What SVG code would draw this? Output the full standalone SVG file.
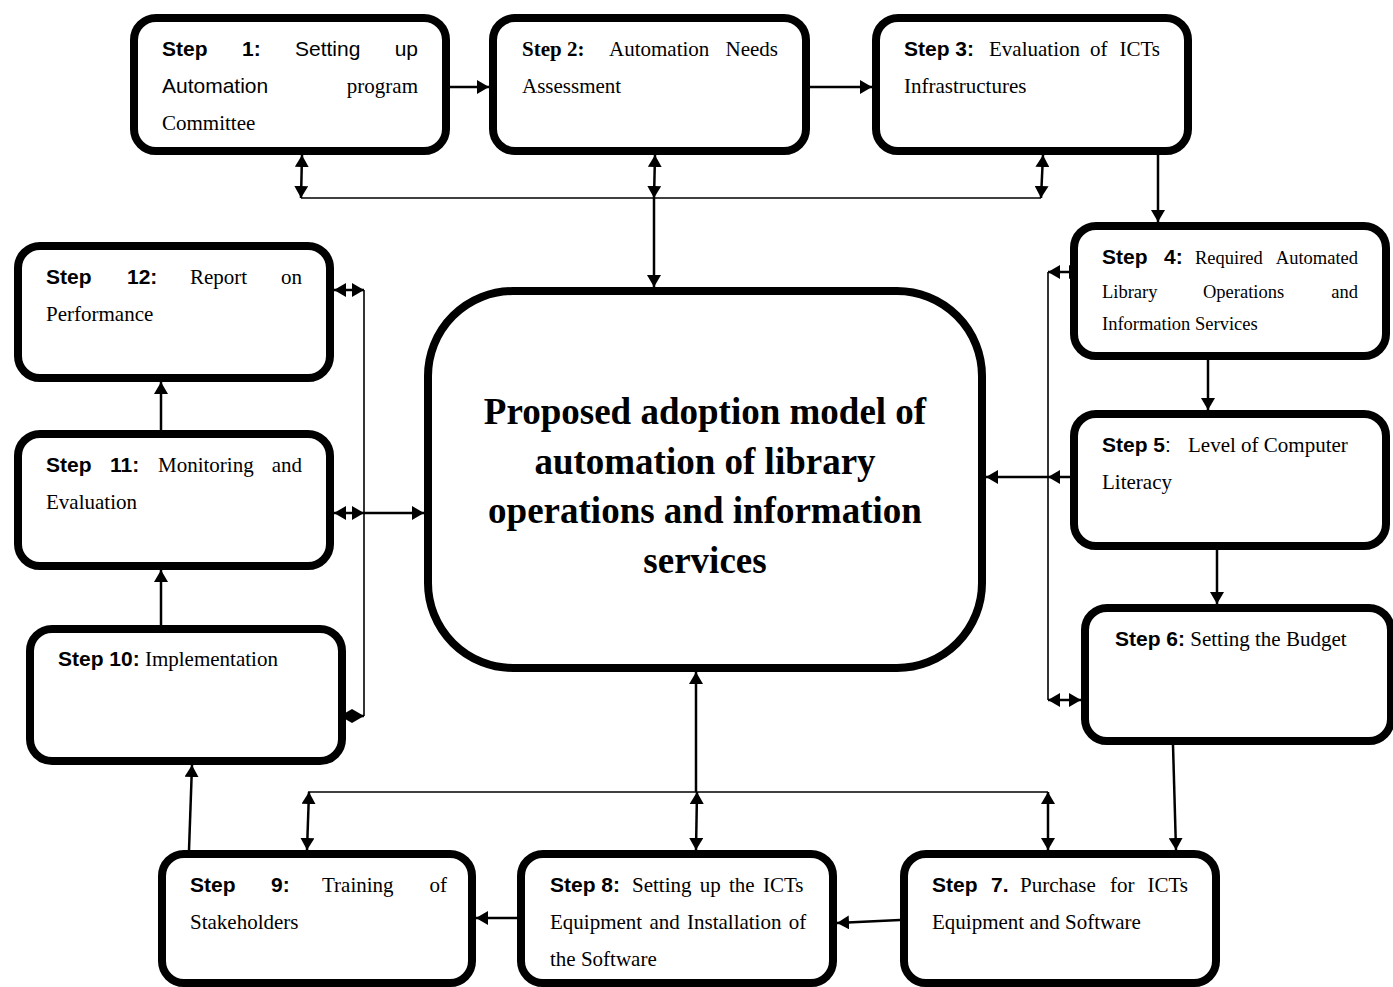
<svg xmlns="http://www.w3.org/2000/svg" width="1393" height="987" viewBox="0 0 1393 987">
<style>
.box{fill:#fff;stroke:#000;stroke-width:8}
.c{fill:none;stroke:#000;stroke-width:2.5}
.b{fill:none;stroke:#000;stroke-width:1.6}
.a{marker-end:url(#ah)}
.d{marker-start:url(#ah);marker-end:url(#ah)}
text{font-size:21px;fill:#000}
.s{font-family:"Liberation Sans",Arial,sans-serif;font-weight:bold}
.sr{font-family:"Liberation Sans",Arial,sans-serif}
.t{font-family:"Liberation Serif","Times New Roman",serif}
.tb{font-family:"Liberation Serif","Times New Roman",serif;font-weight:bold}
.m{font-size:18.5px}
.center{font-family:"Liberation Serif","Times New Roman",serif;font-weight:bold;font-size:37px;text-anchor:middle}
</style>
<defs>
<marker id="ah" markerUnits="userSpaceOnUse" markerWidth="14" markerHeight="14" refX="12" refY="7" orient="auto-start-reverse">
<path d="M0,0 L12,7 L0,14 z" fill="#000"/>
</marker>
</defs>

<g id="connectors">
<line class="c a" x1="450" y1="87" x2="489" y2="87"/>
<line class="c a" x1="810" y1="87" x2="872" y2="87"/>
<line class="b" x1="301" y1="198" x2="1041" y2="198"/>
<line class="c d" x1="302" y1="155" x2="301" y2="198"/>
<line class="c d" x1="655" y1="155" x2="654" y2="198"/>
<line class="c d" x1="1043" y1="155" x2="1041" y2="198"/>
<line class="c a" x1="654" y1="198" x2="654" y2="287"/>
<line class="c a" x1="1158" y1="155" x2="1158" y2="222"/>
<line class="c a" x1="1208" y1="360" x2="1208" y2="410"/>
<line class="c a" x1="1217" y1="550" x2="1217" y2="604"/>
<line class="c a" x1="1173" y1="745" x2="1176" y2="850"/>
<line class="c a" x1="900" y1="920" x2="837" y2="923"/>
<line class="c a" x1="517" y1="918" x2="476" y2="918"/>
<line class="c a" x1="189" y1="850" x2="192" y2="765"/>
<line class="c a" x1="161" y1="625" x2="161" y2="570"/>
<line class="c a" x1="161" y1="430" x2="161" y2="382"/>
<line class="b" x1="1048" y1="272" x2="1048" y2="700"/>
<line class="c d" x1="1048" y1="272" x2="1081" y2="272"/>
<line class="c d" x1="1048" y1="477" x2="1082" y2="477"/>
<line class="c d" x1="1048" y1="700" x2="1081" y2="700"/>
<line class="c a" x1="1048" y1="477" x2="986" y2="477"/>
<line class="b" x1="364" y1="290" x2="364" y2="716"/>
<line class="c d" x1="334" y1="290" x2="364" y2="290"/>
<line class="c d" x1="334" y1="513" x2="364" y2="513"/>
<line class="c d" x1="340" y1="716" x2="364" y2="716"/>
<line class="c a" x1="364" y1="513" x2="424" y2="513"/>
<line class="b" x1="308" y1="792" x2="1048" y2="792"/>
<line class="c a" x1="696" y1="792" x2="696" y2="672"/>
<line class="c d" x1="309" y1="792" x2="307" y2="850"/>
<line class="c d" x1="697" y1="792" x2="696" y2="850"/>
<line class="c d" x1="1048" y1="792" x2="1048" y2="850"/>
</g>

<g id="center">
<rect class="box" x="428" y="291" width="554" height="377" rx="85"/>
<text class="center" x="705" y="424">Proposed adoption model of</text>
<text class="center" x="705" y="474">automation of library</text>
<text class="center" x="705" y="523">operations and information</text>
<text class="center" x="705" y="573">services</text>
</g>

<g id="step1">
<rect class="box" x="134" y="18" width="312" height="133" rx="22"/>
<text class="s" x="162" y="56">Step</text>
<text class="s" x="242" y="56">1:</text>
<text class="sr" x="295" y="56">Setting</text>
<text class="sr" x="418" y="56" text-anchor="end">up</text>
<text class="sr" x="162" y="93">Automation</text>
<text class="t" x="418" y="93" text-anchor="end">program</text>
<text class="t" x="162" y="130">Committee</text>
</g>

<g id="step2">
<rect class="box" x="493" y="18" width="313" height="133" rx="22"/>
<text class="tb" x="522" y="56">Step 2:</text>
<text class="t" x="609" y="56">Automation</text>
<text class="t" x="778" y="56" text-anchor="end">Needs</text>
<text class="t" x="522" y="93">Assessment</text>
</g>

<g id="step3">
<rect class="box" x="876" y="18" width="312" height="133" rx="22"/>
<text class="s" x="904" y="56">Step 3:</text>
<text class="t" x="989" y="56">Evaluation</text>
<text class="t" x="1090" y="56">of</text>
<text class="t" x="1160" y="56" text-anchor="end">ICTs</text>
<text class="t" x="904" y="93">Infrastructures</text>
</g>

<g id="step4">
<rect class="box" x="1074" y="226" width="312" height="130" rx="22"/>
<text class="s" x="1102" y="264">Step</text>
<text class="s" x="1164" y="264">4:</text>
<text class="t m" x="1195" y="264">Required</text>
<text class="t m" x="1358" y="264" text-anchor="end">Automated</text>
<text class="t m" x="1102" y="298">Library</text>
<text class="t m" x="1203" y="298">Operations</text>
<text class="t m" x="1358" y="298" text-anchor="end">and</text>
<text class="t m" x="1102" y="330">Information Services</text>
</g>

<g id="step5">
<rect class="box" x="1074" y="414" width="312" height="132" rx="22"/>
<text x="1102" y="452"><tspan class="s">Step 5</tspan><tspan class="sr">:</tspan></text>
<text class="t" x="1188" y="452">Level of Computer</text>
<text class="t" x="1102" y="489">Literacy</text>
</g>

<g id="step6">
<rect class="box" x="1085" y="608" width="306" height="133" rx="22"/>
<text x="1115" y="646"><tspan class="s">Step 6:</tspan><tspan class="t"> Setting the Budget</tspan></text>
</g>

<g id="step7">
<rect class="box" x="904" y="854" width="312" height="129" rx="22"/>
<text class="s" x="932" y="892">Step</text>
<text class="s" x="991" y="892">7.</text>
<text class="t" x="1020" y="892">Purchase</text>
<text class="t" x="1110" y="892">for</text>
<text class="t" x="1188" y="892" text-anchor="end">ICTs</text>
<text class="t" x="932" y="929">Equipment and Software</text>
</g>

<g id="step8">
<rect class="box" x="521" y="854" width="312" height="129" rx="22"/>
<text class="s" x="550" y="892">Step 8:</text>
<text class="t" x="632" y="892" word-spacing="3">Setting up the ICTs</text>
<text class="t" x="550" y="929" word-spacing="2">Equipment and Installation of</text>
<text class="t" x="550" y="966">the Software</text>
</g>

<g id="step9">
<rect class="box" x="162" y="854" width="310" height="129" rx="22"/>
<text class="s" x="190" y="892">Step</text>
<text class="s" x="271" y="892">9:</text>
<text class="t" x="322" y="892">Training</text>
<text class="t" x="447" y="892" text-anchor="end">of</text>
<text class="t" x="190" y="929">Stakeholders</text>
</g>

<g id="step10">
<rect class="box" x="30" y="629" width="312" height="132" rx="22"/>
<text x="58" y="666"><tspan class="s">Step 10:</tspan><tspan class="t"> Implementation</tspan></text>
</g>

<g id="step11">
<rect class="box" x="18" y="434" width="312" height="132" rx="22"/>
<text class="s" x="46" y="472">Step</text>
<text class="s" x="110" y="472">11:</text>
<text class="t" x="158" y="472">Monitoring</text>
<text class="t" x="302" y="472" text-anchor="end">and</text>
<text class="t" x="46" y="509">Evaluation</text>
</g>

<g id="step12">
<rect class="box" x="18" y="246" width="312" height="132" rx="22"/>
<text class="s" x="46" y="284">Step</text>
<text class="s" x="127" y="284">12:</text>
<text class="t" x="190" y="284">Report</text>
<text class="t" x="302" y="284" text-anchor="end">on</text>
<text class="t" x="46" y="321">Performance</text>
</g>
</svg>
